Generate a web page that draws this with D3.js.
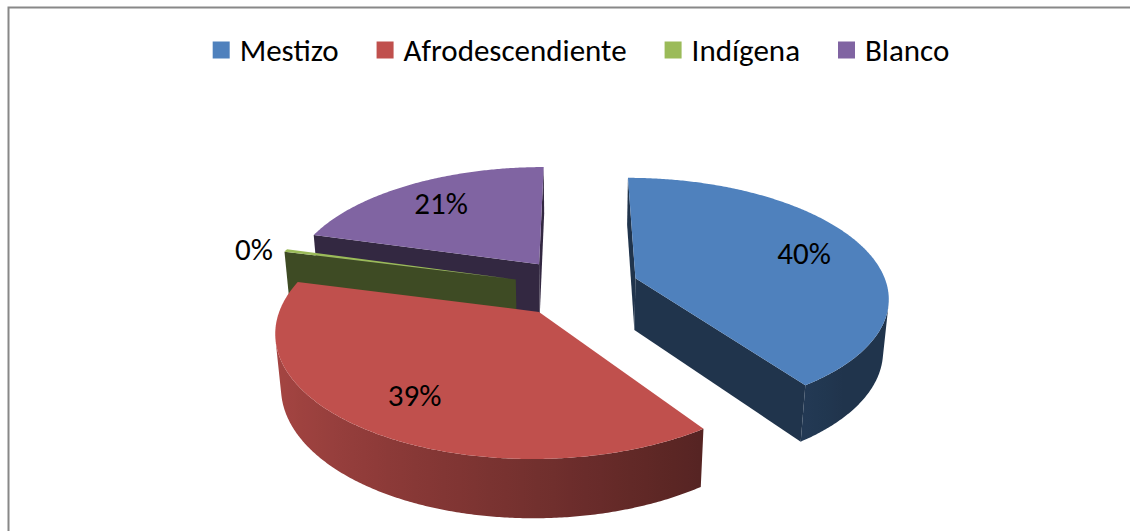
<!DOCTYPE html>
<html lang="es">
<head>
  <meta charset="UTF-8" />
  <title>Etnia</title>
  <script src="https://d3js.org/d3.v7.min.js"></script>
  <style>
    html, body { margin: 0; padding: 0; background: #fff; }
    svg { display: block; font-family: Calibri, Carlito, "Liberation Sans", Arial, sans-serif; }
  </style>
</head>
<body>
<svg width="1130" height="531"></svg>
<script>
  // data
  const categories = ["Mestizo", "Afrodescendiente", "Indígena", "Blanco"];
  const values = [40.3, 38.7, 0.4, 20.6];
  const palette = ["#4F81BD", "#C0504D", "#9BBB59", "#8064A2"];

  const svg = d3.select("svg");
  const defs = svg.append("defs");

  // chart frame (runs past the right and bottom edge)
  svg.append("rect")
    .attr("x", 8.5).attr("y", 7.5).attr("width", 1150).attr("height", 600)
    .attr("fill", "#fff").attr("stroke", "#888").attr("stroke-width", 2);

  const color = d3.scaleOrdinal().domain(categories).range(palette);
  const pct = d3.format(".0%");
  const total = d3.sum(values);

  // 3d view
  const cx = 576, cy = 287, R = 252, depth = 60, explode = 63;
  const tilt = 27.8 * Math.PI / 180, camDist = 1524;
  const sinA = Math.sin(tilt), cosA = Math.cos(tilt);
  const cam = [0, camDist * cosA, camDist * sinA];

  function project(p) {
    const [X, Y, Z] = p;
    const v = Y * sinA - Z * cosA;
    const w = Y * cosA + Z * sinA;
    const s = 1 / (1 - w / camDist);
    return [cx + X * s, cy + v * s];
  }
  function world(d, r, a, z) {
    return [r * Math.sin(a) + d.ex, -r * Math.cos(a) + d.ey, z];
  }
  function facing(n, p) {
    return n[0] * (cam[0] - p[0]) + n[1] * (cam[1] - p[1]) + n[2] * (cam[2] - p[2]) > 0;
  }
  function shade(c, b) {
    const k = d3.rgb(c);
    return d3.rgb(k.r * b, k.g * b, k.b * b).formatHex();
  }
  // lighting of the curved wall, brighter toward the left
  function wallLight(a) {
    return Math.max(0.4, Math.min(0.87, 0.6 - 0.27 * Math.sin(a)));
  }

  const poly = d3.line().curve(d3.curveLinearClosed);

  const pie = d3.pie().sort(null).value(d => d.value)
    .startAngle(0).endAngle(2 * Math.PI);
  const arcs = pie(categories.map((c, i) => ({ name: c, value: values[i] })));
  arcs.forEach(d => {
    d.mid = (d.startAngle + d.endAngle) / 2;
    d.ex = explode * Math.sin(d.mid);
    d.ey = -explode * Math.cos(d.mid);
    d.color = color(d.data.name);
  });

  const pieG = svg.append("g");
  const order = arcs.slice().sort((a, b) => a.ey - b.ey);
  const step = Math.PI / 360;

  order.forEach((d, idx) => {
    const g = pieG.append("g");
    const a0 = d.startAngle, a1 = d.endAngle;
    const n = Math.max(2, Math.ceil((a1 - a0) / step));
    const angles = d3.range(n + 1).map(i => a0 + (a1 - a0) * i / n);
    const apexTop = [d.ex, d.ey, 0], apexBot = [d.ex, d.ey, -depth];

    // radial walls
    const startN = [-Math.cos(a0), -Math.sin(a0), 0];
    const endN = [Math.cos(a1), Math.sin(a1), 0];
    [[a0, startN], [a1, endN]].forEach(([a, nv]) => {
      if (!facing(nv, apexTop)) return;
      const pts = [apexTop, world(d, R, a, 0), world(d, R, a, -depth), apexBot].map(project);
      g.append("path").attr("d", poly(pts)).attr("fill", shade(d.color, 0.4));
    });

    // curved outer wall, visible runs only
    const vis = angles.map(a => facing([Math.sin(a), -Math.cos(a), 0], world(d, R, a, -depth / 2)));
    let runs = [], cur = null;
    angles.forEach((a, i) => {
      if (vis[i]) { if (!cur) { cur = []; runs.push(cur); } cur.push(a); }
      else cur = null;
    });
    runs.filter(r => r.length > 1).forEach((run, ri) => {
      const top = run.map(a => project(world(d, R, a, 0)));
      const bot = run.map(a => project(world(d, R, a, -depth))).reverse();
      const xs = top.map(p => p[0]);
      const x1 = d3.min(xs), x2 = d3.max(xs);
      const id = "wall" + idx + "_" + ri;
      const grad = defs.append("linearGradient").attr("id", id)
        .attr("gradientUnits", "userSpaceOnUse")
        .attr("x1", x1).attr("x2", x2).attr("y1", 0).attr("y2", 0);
      const stops = run.map((a, i) => ({ o: x2 > x1 ? (xs[i] - x1) / (x2 - x1) : 0, c: shade(d.color, wallLight(a)) }))
        .sort((p, q) => p.o - q.o);
      stops.filter((s, i) => i % 6 === 0 || i === stops.length - 1).forEach(s => {
        grad.append("stop").attr("offset", s.o).attr("stop-color", s.c);
      });
      g.append("path").attr("d", poly(top.concat(bot))).attr("fill", `url(#${id})`);
    });

    // top face
    const topPts = [project(apexTop)].concat(angles.map(a => project(world(d, R, a, 0))));
    g.append("path").attr("d", poly(topPts)).attr("fill", d.color);
  });

  // data labels
  const labelG = svg.append("g").attr("font-size", 31).attr("fill", "#000");
  arcs.forEach(d => {
    const share = d.value / total;
    const outside = share < 0.02;
    const p = project(world(d, outside ? R * 1.04 : R * 0.74, d.mid, 0));
    labelG.append("text")
      .attr("x", p[0] + (outside ? -4 : 0)).attr("y", p[1])
      .attr("dy", "0.34em")
      .attr("text-anchor", outside ? "end" : "middle")
      .text(pct(share));
  });

  // legend
  const legend = svg.append("g").attr("font-size", 31).attr("fill", "#000");
  const box = 17, gapText = 10, gapItem = 38, legendY = 50;
  const items = categories.map(c => {
    const it = legend.append("g");
    it.append("rect").attr("width", box).attr("height", box)
      .attr("y", legendY - box / 2).attr("fill", color(c));
    const t = it.append("text").attr("x", box + gapText).attr("y", legendY).attr("dy", "0.34em").text(c);
    return { g: it, w: box + gapText + t.node().getComputedTextLength() };
  });
  const legendW = d3.sum(items, d => d.w) + gapItem * (items.length - 1);
  let lx = 581 - legendW / 2;
  items.forEach(it => { it.g.attr("transform", `translate(${lx},0)`); lx += it.w + gapItem; });
</script>
</body>
</html>
